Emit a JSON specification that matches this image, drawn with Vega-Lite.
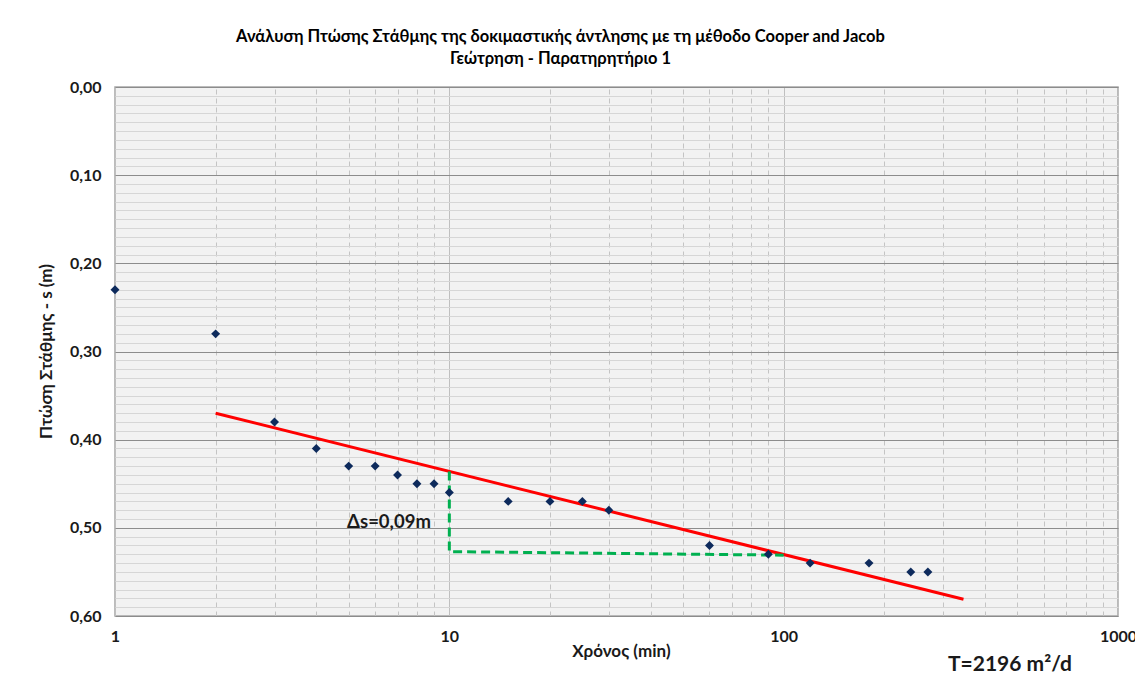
{
  "$schema": "https://vega.github.io/schema/vega-lite/v6.json",
  "width": 1003,
  "height": 529,
  "autosize": {"type": "none"},
  "padding": {"left": 115, "top": 87, "right": 17, "bottom": 67},
  "background": "#ffffff",
  "title": {
    "text": ["Ανάλυση Πτώσης Στάθμης της δοκιμαστικής άντλησης με τη μέθοδο  Cooper and Jacob", "Γεώτρηση - Παρατηρητήριο 1"],
    "font": "Lato",
    "fontSize": 16.5,
    "fontWeight": "bold",
    "color": "#000000",
    "lineHeight": 22,
    "anchor": "middle",
    "frame": "group",
    "dx": -56,
    "offset": 12
  },
  "datasets": {
    "obs": [
      {"t": 1, "s": 0.23}, {"t": 2, "s": 0.28}, {"t": 3, "s": 0.38}, {"t": 4, "s": 0.41},
      {"t": 5, "s": 0.43}, {"t": 6, "s": 0.43}, {"t": 7, "s": 0.44}, {"t": 8, "s": 0.45},
      {"t": 9, "s": 0.45}, {"t": 10, "s": 0.46}, {"t": 15, "s": 0.47}, {"t": 20, "s": 0.47},
      {"t": 25, "s": 0.47}, {"t": 30, "s": 0.48}, {"t": 60, "s": 0.52}, {"t": 90, "s": 0.53},
      {"t": 120, "s": 0.54}, {"t": 180, "s": 0.54}, {"t": 240, "s": 0.55}, {"t": 270, "s": 0.55}
    ],
    "fit": [{"t": 2, "s": 0.37}, {"t": 345, "s": 0.581}],
    "delta": [{"i": 1, "t": 10, "s": 0.436}, {"i": 2, "t": 10, "s": 0.527}, {"i": 3, "t": 100, "s": 0.531}],
    "notes": [
      {"t": 6.6, "s": 0.493, "label": "Δs=0,09m", "size": 18.5},
      {"t": 475, "s": 0.656, "label": "T=2196 m²/d", "size": 21}
    ]
  },
  "encoding": {
    "x": {
      "field": "t", "type": "quantitative",
      "scale": {"type": "log", "domain": [1, 1000], "nice": false},
      "axis": {
        "title": "Χρόνος (min)",
        "values": [1,2,3,4,5,6,7,8,9,10,20,30,40,50,60,70,80,90,100,200,300,400,500,600,700,800,900,1000],
        "labelExpr": "indexof([1,10,100,1000], datum.value) >= 0 ? format(datum.value, 'd') : ''",
        "labelOverlap": false,
        "labelFlush": false,
        "labelPadding": 12,
        "labelFont": "Lato", "labelFontSize": 16, "labelFontWeight": "bold", "labelColor": "#1a1a1a",
        "ticks": false,
        "domain": false,
        "grid": true,
        "gridColor": {"condition": {"test": "indexof([1,10,100,1000], datum.value) >= 0", "value": "#bfbfbf"}, "value": "#c4c4c4"},
        "gridDash": {"condition": {"test": "indexof([1,10,100,1000], datum.value) >= 0", "value": []}, "value": [5, 4]},
        "gridWidth": 1,
        "titleFont": "Lato", "titleFontSize": 17, "titleFontWeight": "bold", "titleColor": "#1a1a1a",
        "titleX": 506, "titleY": 35, "titleBaseline": "middle"
      }
    },
    "y": {
      "field": "s", "type": "quantitative",
      "scale": {"domain": [0, 0.6], "reverse": true, "nice": false, "zero": false},
      "axis": {
        "title": "Πτώση Στάθμης - s (m)",
        "values": [0,0.01,0.02,0.03,0.04,0.05,0.06,0.07,0.08,0.09,0.1,0.11,0.12,0.13,0.14,0.15,0.16,0.17,0.18,0.19,0.2,0.21,0.22,0.23,0.24,0.25,0.26,0.27,0.28,0.29,0.3,0.31,0.32,0.33,0.34,0.35,0.36,0.37,0.38,0.39,0.4,0.41,0.42,0.43,0.44,0.45,0.46,0.47,0.48,0.49,0.5,0.51,0.52,0.53,0.54,0.55,0.56,0.57,0.58,0.59,0.6],
        "labelExpr": "abs(datum.value * 10 - round(datum.value * 10)) < 0.001 ? replace(format(datum.value, '.2f'), '.', ',') : ''",
        "labelOverlap": false,
        "labelPadding": 14,
        "labelFont": "Lato", "labelFontSize": 16, "labelFontWeight": "bold", "labelColor": "#1a1a1a",
        "ticks": false,
        "domain": false,
        "grid": true,
        "gridColor": {"condition": {"test": "abs(datum.value * 10 - round(datum.value * 10)) < 0.001", "value": "#8c8c8c"}, "value": "#d6d6d6"},
        "gridWidth": {"condition": {"test": "abs(datum.value * 10 - round(datum.value * 10)) < 0.001", "value": 1.2}, "value": 1},
        "titleFont": "Lato", "titleFontSize": 17, "titleFontWeight": "bold", "titleColor": "#1a1a1a",
        "titleX": -69, "titleY": 264, "titleAngle": -90, "titleBaseline": "middle", "titleAlign": "center"
      }
    }
  },
  "layer": [
    {
      "data": {"name": "fit"},
      "mark": {"type": "line", "color": "#ff0000", "strokeWidth": 3}
    },
    {
      "data": {"name": "delta"},
      "mark": {"type": "line", "color": "#00b050", "strokeWidth": 3, "strokeDash": [9, 5]},
      "encoding": {"order": {"field": "i", "type": "quantitative"}}
    },
    {
      "data": {"name": "obs"},
      "mark": {"type": "point", "shape": "diamond", "filled": true, "color": "#0d2a5c", "size": 80, "opacity": 1}
    },
    {
      "data": {"name": "notes"},
      "mark": {"type": "text", "font": "Lato", "fontWeight": "bold", "color": "#1a1a1a", "align": "center", "baseline": "middle"},
      "encoding": {
        "text": {"field": "label", "type": "nominal"},
        "size": {"field": "size", "type": "quantitative", "scale": null}
      }
    }
  ],
  "config": {
    "view": {"fill": "#f2f2f2", "stroke": "#a6a6a6", "strokeWidth": 1.5}
  }
}
